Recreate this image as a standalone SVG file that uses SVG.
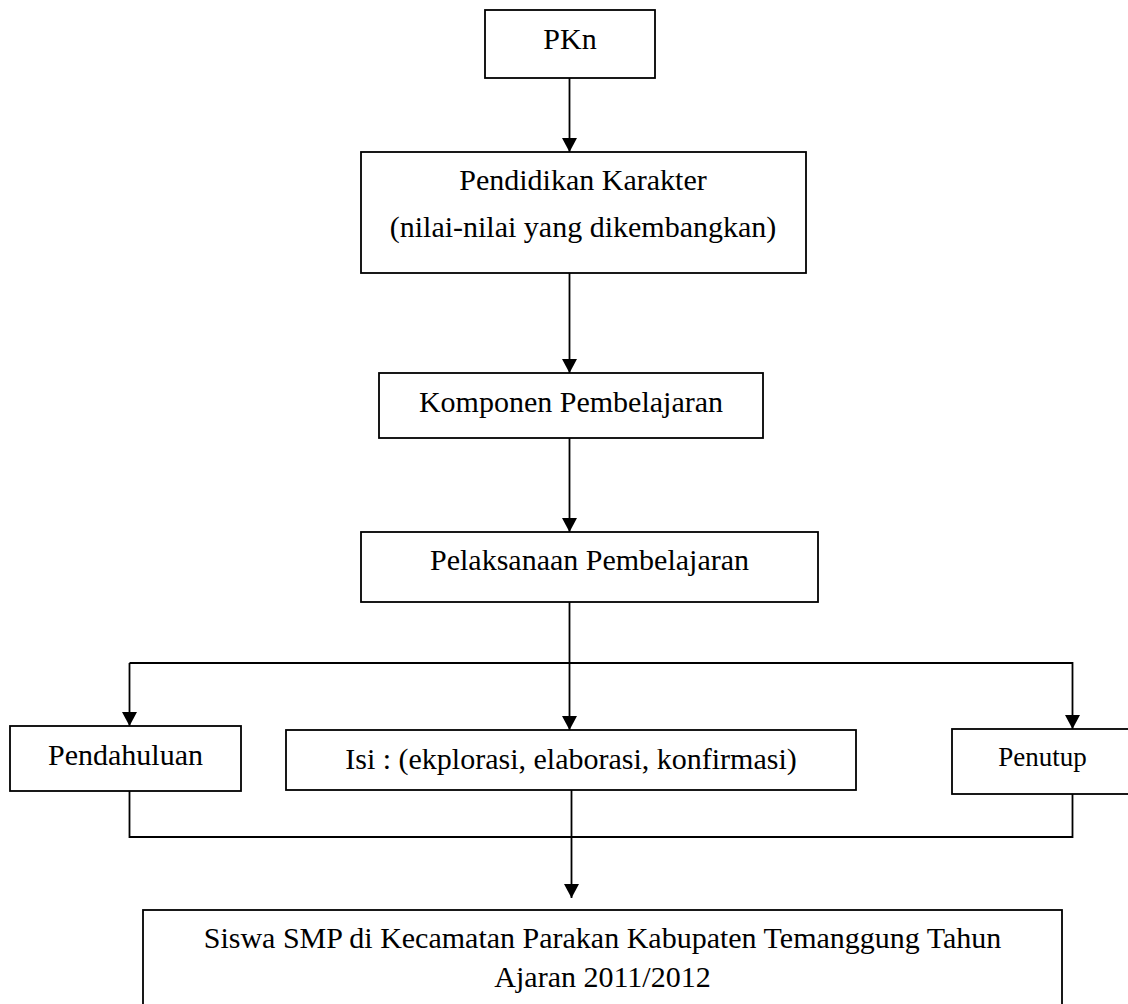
<svg xmlns="http://www.w3.org/2000/svg" width="1128" height="1004" viewBox="0 0 1128 1004">
<style>
.box{fill:#fff;stroke:#000;stroke-width:1.8}
.t{font-family:"Liberation Serif","Times New Roman",serif;font-size:30px;fill:#000;text-anchor:middle}
.c{fill:none;stroke:#000;stroke-width:1.8}
</style>
<defs>
<marker id="ah" viewBox="0 0 14 15" refX="14" refY="7.5" markerWidth="14" markerHeight="15" markerUnits="userSpaceOnUse" orient="auto">
<path d="M0,0 L14,7.5 L0,15 Z" fill="#000"/>
</marker>
</defs>
<rect width="1128" height="1004" fill="#fff"/>
<g id="connectors">
<line class="c" x1="569.5" y1="78" x2="569.5" y2="152" marker-end="url(#ah)"/>
<line class="c" x1="569.5" y1="273" x2="569.5" y2="373" marker-end="url(#ah)"/>
<line class="c" x1="569.5" y1="438" x2="569.5" y2="532" marker-end="url(#ah)"/>
<line class="c" x1="569.5" y1="602" x2="569.5" y2="730" marker-end="url(#ah)"/>
<polyline class="c" points="129.5,663 1072.5,663 1072.5,729" marker-end="url(#ah)"/>
<line class="c" x1="129.5" y1="663" x2="129.5" y2="726" marker-end="url(#ah)"/>
<polyline class="c" points="129.5,791 129.5,837 1072.5,837 1072.5,794"/>
<line class="c" x1="571.5" y1="790" x2="571.5" y2="898" marker-end="url(#ah)"/>
</g>
<g id="pkn">
<rect class="box" x="485" y="10" width="170" height="68"/>
<text class="t" x="570" y="49">PKn</text>
</g>
<g id="pendidikan">
<rect class="box" x="361" y="152" width="445" height="121"/>
<text class="t" x="583" y="190">Pendidikan Karakter</text>
<text class="t" x="583" y="237">(nilai-nilai yang dikembangkan)</text>
</g>
<g id="komponen">
<rect class="box" x="379" y="373" width="384" height="65"/>
<text class="t" x="571" y="412">Komponen Pembelajaran</text>
</g>
<g id="pelaksanaan">
<rect class="box" x="361" y="532" width="457" height="70"/>
<text class="t" x="589.5" y="570">Pelaksanaan Pembelajaran</text>
</g>
<g id="pendahuluan">
<rect class="box" x="10" y="726" width="231" height="65"/>
<text class="t" x="125.5" y="765">Pendahuluan</text>
</g>
<g id="isi">
<rect class="box" x="286" y="730" width="570" height="60"/>
<text class="t" x="571" y="769">Isi : (ekplorasi, elaborasi, konfirmasi)</text>
</g>
<g id="penutup">
<rect class="box" x="952" y="729" width="181" height="65"/>
<text class="t" x="1042.5" y="766" style="font-size:27px">Penutup</text>
</g>
<g id="siswa">
<rect class="box" x="143" y="910" width="919" height="110"/>
<text class="t" x="602.5" y="948">Siswa SMP di Kecamatan Parakan Kabupaten Temanggung Tahun</text>
<text class="t" x="602.5" y="987">Ajaran 2011/2012</text>
</g>
</svg>
